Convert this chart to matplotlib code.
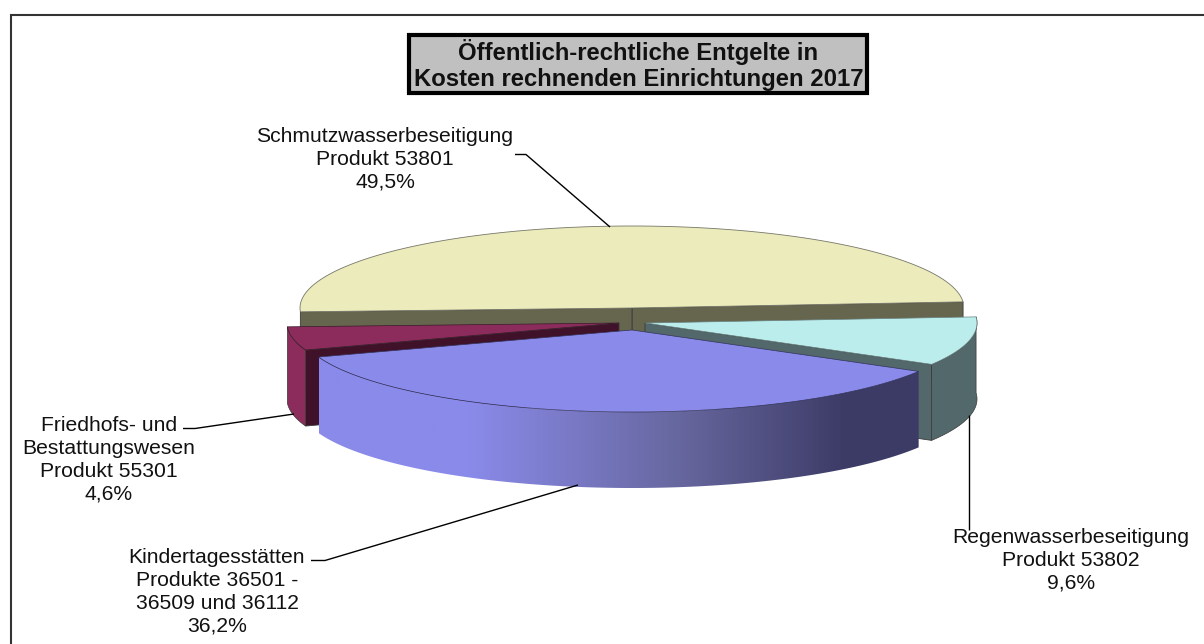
import numpy as np
import matplotlib
matplotlib.use("Agg")
import matplotlib.pyplot as plt
from matplotlib.colors import LinearSegmentedColormap
from matplotlib.patches import Polygon, Rectangle

plt.rcParams['font.family'] = ['Liberation Sans', 'DejaVu Sans']

# ---- data ----
categories = ["Regenwasserbeseitigung\nProdukt 53802",
              "Schmutzwasserbeseitigung\nProdukt 53801",
              "Friedhofs- und\nBestattungswesen\nProdukt 55301",
              "Kindertagesstätten\nProdukte 36501 -\n36509 und 36112"]
values = [9.6, 49.5, 4.6, 36.2]
value_labels = ["9,6%", "49,5%", "4,6%", "36,2%"]
title = "Öffentlich-rechtliche Entgelte in\nKosten rechnenden Einrichtungen 2017"

# ---- style / layout ----
W, H = 1204, 644
START_ANGLE = -30.3
RX, RY, DEPTH = 332, 82, 76
centers = [(645, 323), (632, 308), (619, 323), (632, 330)]
top_colors = ['#BAEDEC', '#ECEBBB', '#8C2C5C', '#8A8AEA']
side_colors = ['#52686A', '#66664E', '#8C2C5C', '#8A8AEA']
cut_colors = ['#52686A', '#66664E', '#3F1229', '#3C3B66']
EDGE = '#3a3a3a'
label_pos = [(1071, 560), (385, 159), (109, 460), (217, 592)]

fig = plt.figure(figsize=(W / 100, H / 100), dpi=100)
ax = fig.add_axes([0, 0, 1, 1])
ax.set_xlim(0, W)
ax.set_ylim(H, 0)
ax.axis('off')

# outer frame (top and left only)
ax.plot([10.5, 10.5, W], [H, 14.5, 14.5], color='#333333', lw=1.5, solid_joinstyle='miter', zorder=1)

# title box
ax.add_patch(Rectangle((408.5, 34.5), 458, 58, fc='#C0C0C0', ec='black', lw=3, zorder=20))
ax.text(638.5, 65, title, ha='center', va='center', fontsize=17.2, fontweight='bold',
        linespacing=1.13, color='#111111', zorder=21)

fracs = np.array(values) / np.sum(values)
edges = START_ANGLE + 360 * np.concatenate([[0], np.cumsum(fracs)])


def rim(c, a0, a1, n=120):
    t = np.radians(np.linspace(a0, a1, n))
    return np.column_stack([c[0] + RX * np.cos(t), c[1] - RY * np.sin(t)])


def cut_face(c, angle, color, z):
    p = rim(c, angle, angle, 1)[0]
    pts = [c, p, (p[0], p[1] + DEPTH), (c[0], c[1] + DEPTH)]
    ax.add_patch(Polygon(pts, closed=True, fc=color, ec=EDGE, lw=0.6, zorder=z))


# z order: back slice, side slices, front slice
order = {1: 3, 0: 5, 2: 5, 3: 8}

# yellow (back) slice: cut faces and top
i = 1
c = centers[i]
cut_face(c, edges[i], cut_colors[i], order[i])
cut_face(c, edges[i + 1], cut_colors[i], order[i])
ax.add_patch(Polygon(np.vstack([[c], rim(c, edges[i], edges[i + 1])]), closed=True,
                     fc=top_colors[i], ec='#77776a', lw=0.6, zorder=order[i] + 0.5))

# cyan slice: outer wall and cut at front edge
i = 0
c = centers[i]
cut_face(c, edges[i], cut_colors[i], order[i])
r = rim(c, edges[i], edges[i + 1])
wall = np.vstack([r, r[::-1] + [0, DEPTH]])
ax.add_patch(Polygon(wall, closed=True, fc=side_colors[i], ec=EDGE, lw=0.5, zorder=order[i]))
ax.add_patch(Polygon(np.vstack([[c], r]), closed=True, fc=top_colors[i], ec='#6a8080', lw=0.5,
                     zorder=order[i] + 0.5))

# purple slice
i = 2
c = centers[i]
cut_face(c, edges[i + 1], cut_colors[i], order[i])
r = rim(c, edges[i], edges[i + 1])
wall = np.vstack([r, r[::-1] + [0, DEPTH]])
ax.add_patch(Polygon(wall, closed=True, fc=side_colors[i], ec=EDGE, lw=0.5, zorder=order[i]))
ax.add_patch(Polygon(np.vstack([[c], r]), closed=True, fc=top_colors[i], ec='#3a1a2a', lw=0.5,
                     zorder=order[i] + 0.5))

# blue front slice with horizontal gradient on its wall
i = 3
c = centers[i]
r = rim(c, edges[i], edges[i + 1])
wall = np.vstack([r, r[::-1] + [0, DEPTH]])
cmap = LinearSegmentedColormap.from_list('wall', [(0, '#8A8AEA'), (0.25, '#8A8AEA'),
                                                  (0.6, '#67679F'), (0.88, '#3C3B66'),
                                                  (1, '#3C3B66')])
xmin, xmax = wall[:, 0].min(), wall[:, 0].max()
ymin, ymax = wall[:, 1].min(), wall[:, 1].max()
img = ax.imshow(np.linspace(0, 1, 400)[None, :], cmap=cmap, vmin=0, vmax=1, aspect='auto',
                extent=[xmin, xmax, ymax, ymin], zorder=order[i], interpolation='bilinear')
wall_patch = Polygon(wall, closed=True, fc='none', ec='none', lw=0, zorder=order[i] + 0.1)
ax.add_patch(wall_patch)
img.set_clip_path(wall_patch)
ax.add_patch(Polygon(np.vstack([[c], r]), closed=True, fc=top_colors[i], ec='#33335a', lw=0.5,
                     zorder=order[i] + 0.5))
ax.set_xlim(0, W)
ax.set_ylim(H, 0)

# leader lines
leaders = [([969, 969], [415, 530]),
           ([515, 526, 610], [154.5, 154.5, 227]),
           ([183, 195, 294], [428.5, 428.5, 414]),
           ([311, 325, 578], [560.5, 560.5, 485])]
for lx, ly in leaders:
    ax.plot(lx, ly, color='black', lw=1.0, zorder=12, solid_capstyle='butt')

# labels
for cat, val, (lx, ly) in zip(categories, value_labels, label_pos):
    ax.text(lx, ly, f"{cat}\n{val}", ha='center', va='center', fontsize=15.2,
            linespacing=1.26, color='#111111', zorder=13)

fig.savefig('out.png', dpi=100, facecolor='white')
